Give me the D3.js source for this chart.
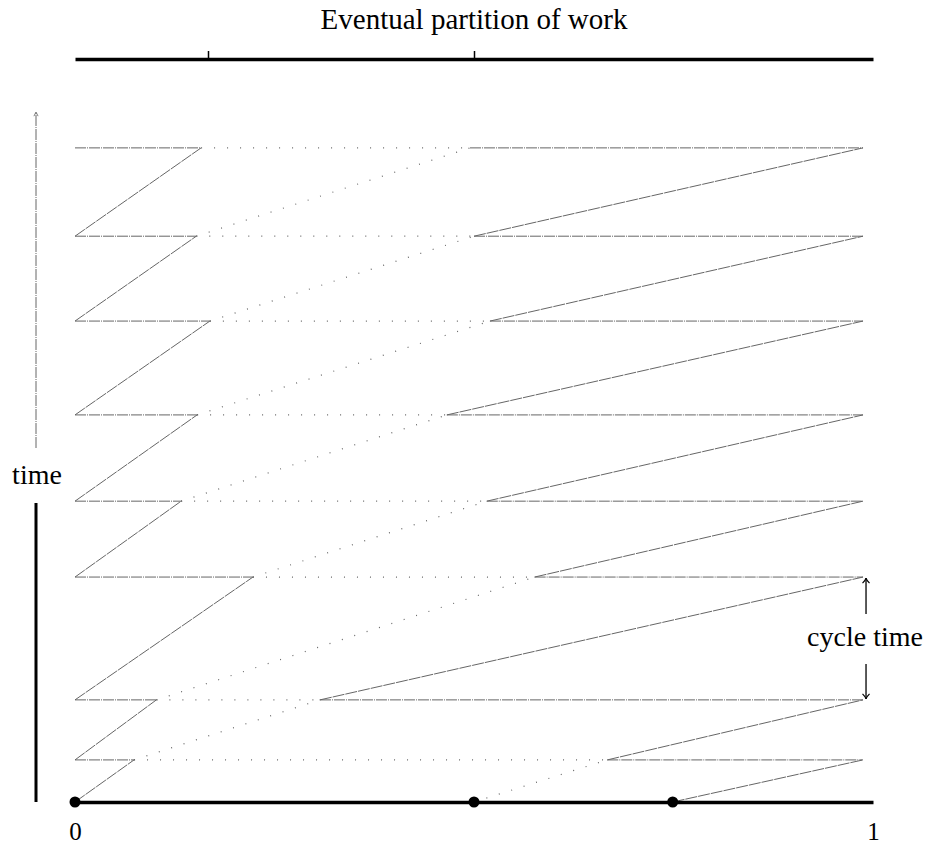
<!DOCTYPE html>
<html>
<head>
<meta charset="utf-8">
<script src="https://cdn.jsdelivr.net/npm/d3@7"></script>
<style>
  html, body { margin: 0; padding: 0; background: #fff; }
  svg { display: block; }
  svg text { font-family: "Liberation Serif", "Times New Roman", Times, "DejaVu Serif", "Noto Serif", serif; fill: #000; }
</style>
</head>
<body>
<svg id="chart" width="928" height="844"></svg>
<script>
// Time at each scheduling step (arbitrary units, 0 = start)
const times = [0, 6.1, 14.8, 32.6, 43.6, 56.1, 69.7, 82.0, 94.8];
// Work reached by the left worker at each step (fraction of total work)
const leftPos = [0, 0.074, 0.102, 0.223, 0.133, 0.153, 0.169, 0.152, 0.158];
// Work position where the right worker restarts at each step
const rightPos = [0.749, 0.667, 0.307, 0.576, 0.516, 0.466, 0.520, 0.500, 0.495];
// Starting point of the boundary hand-off at step 0
const initialSplit = 0.5;
// Right end of the work range swept by the right worker
const workEnd = 0.9875;
// Eventual partition marks and end labels
const partitionTicks = [1 / 6, 0.5];
const endTicks = [0, 1];
const endLabels = ["0", "1"];
// Marked points on the work axis
const startDots = [0, 0.5, 0.749];
// Cycle-time annotation spans steps 2..3
const cycleSpan = [2, 3];

const serif = "'Liberation Serif', 'Times New Roman', Times, 'DejaVu Serif', 'Noto Serif', serif";

const svg = d3.select("#chart");
const x = d3.scaleLinear([0, 1], [75, 873]);
const y = d3.scaleLinear([0, 100], [802, 112]);

const gray = "#666";
const dashStyle = "11,1,1,1";
const dotStyle = "1,12";

const defs = svg.append("defs");
defs.append("marker")
  .attr("id", "head")
  .attr("viewBox", "-6 -6 12 12")
  .attr("refX", 0).attr("refY", 0)
  .attr("markerWidth", 12).attr("markerHeight", 12)
  .attr("markerUnits", "userSpaceOnUse")
  .attr("orient", "auto")
  .append("path")
  .attr("d", "M-5,-3.5 Q-2,-0.5 0,0 Q-2,0.5 -5,3.5")
  .attr("fill", "none").attr("stroke", "#000").attr("stroke-width", 1.2);
defs.append("marker")
  .attr("id", "headThin")
  .attr("viewBox", "-6 -6 12 12")
  .attr("refX", 0).attr("refY", 0)
  .attr("markerWidth", 10).attr("markerHeight", 10)
  .attr("markerUnits", "userSpaceOnUse")
  .attr("orient", "auto")
  .append("path")
  .attr("d", "M-5,-2.5 L0,0 L-5,2.5")
  .attr("fill", "none").attr("stroke", gray).attr("stroke-width", 1);

// Title
svg.append("text")
  .attr("x", x(0.5)).attr("y", 29)
  .attr("text-anchor", "middle")
  .attr("font-family", serif)
  .attr("font-size", 29)
  .text("Eventual partition of work");

// Eventual partition axis
const topAxis = svg.append("g")
  .attr("transform", `translate(0,${59})`)
  .call(d3.axisTop(x).tickValues(partitionTicks).tickSize(8).tickSizeOuter(0).tickFormat(""));
topAxis.select(".domain").attr("stroke", "#000").attr("stroke-width", 3.5);
topAxis.selectAll(".tick line").attr("stroke", "#000").attr("stroke-width", 1.5);

const steps = d3.range(1, times.length);
const plot = svg.append("g")
  .attr("fill", "none")
  .attr("stroke", gray)
  .attr("stroke-width", 1);

// Left worker: dashed return at each step
plot.selectAll(".leftBack").data(steps).join("line")
  .attr("x1", x(0)).attr("x2", i => x(leftPos[i]))
  .attr("y1", i => y(times[i])).attr("y2", i => y(times[i]))
  .attr("stroke-dasharray", dashStyle);

// Right worker: dashed return at each step
plot.selectAll(".rightBack").data(steps).join("line")
  .attr("x1", i => x(rightPos[i])).attr("x2", x(workEnd))
  .attr("y1", i => y(times[i])).attr("y2", i => y(times[i]))
  .attr("stroke-dasharray", dashStyle);

// Unclaimed gap between the workers
plot.selectAll(".gap").data(steps).join("line")
  .attr("x1", i => x(leftPos[i])).attr("x2", i => x(rightPos[i]))
  .attr("y1", i => y(times[i])).attr("y2", i => y(times[i]))
  .attr("stroke-dasharray", dotStyle)
  .attr("stroke-width", 1.2);

// Left worker progress between steps
const prev = d3.range(0, times.length - 1);
plot.selectAll(".leftRun").data(prev).join("line")
  .attr("x1", x(0)).attr("y1", i => y(times[i]))
  .attr("x2", i => x(leftPos[i + 1])).attr("y2", i => y(times[i + 1]))
  .attr("stroke-dasharray", "12,1");

// Right worker progress between steps
plot.selectAll(".rightRun").data(prev).join("line")
  .attr("x1", i => x(rightPos[i])).attr("y1", i => y(times[i]))
  .attr("x2", x(workEnd)).attr("y2", i => y(times[i + 1]))
  .attr("stroke-dasharray", "12,1");

// Boundary hand-off from one step to the next
plot.selectAll(".handoff").data(prev).join("line")
  .attr("x1", i => x(i === 0 ? initialSplit : leftPos[i])).attr("y1", i => y(times[i]))
  .attr("x2", i => x(rightPos[i + 1])).attr("y2", i => y(times[i + 1]))
  .attr("stroke-dasharray", dotStyle)
  .attr("stroke-width", 1.2);

// Work axis
const bottomAxis = svg.append("g")
  .attr("transform", `translate(0,${y(0)})`)
  .call(d3.axisBottom(x).tickValues(endTicks).tickSize(0).tickSizeOuter(0)
    .tickPadding(20).tickFormat((d, i) => endLabels[i]));
bottomAxis.attr("font-family", serif);
bottomAxis.select(".domain").attr("stroke", "#000").attr("stroke-width", 3.5);
bottomAxis.selectAll(".tick text")
  .attr("font-family", serif)
  .attr("font-size", 25).attr("fill", "#000");

svg.selectAll(".dot").data(startDots).join("circle")
  .attr("cx", d => x(d)).attr("cy", y(0)).attr("r", 5.5)
  .attr("fill", "#000");

// Time axis
const timeX = 36;
svg.append("line")
  .attr("x1", timeX).attr("x2", timeX)
  .attr("y1", 448).attr("y2", y(100))
  .attr("stroke", gray).attr("stroke-width", 1)
  .attr("stroke-dasharray", "11,1,1,1")
  .attr("marker-end", "url(#headThin)");
svg.append("line")
  .attr("x1", timeX).attr("x2", timeX)
  .attr("y1", 503).attr("y2", y(0))
  .attr("stroke", "#000").attr("stroke-width", 3);
svg.append("text")
  .attr("x", timeX + 1).attr("y", 484)
  .attr("text-anchor", "middle")
  .attr("font-family", serif)
  .attr("font-size", 28)
  .text("time");

// Cycle time annotation
const cx = x(workEnd) + 3;
const yTop = y(times[cycleSpan[1]]);
const yBot = y(times[cycleSpan[0]]);
svg.append("line")
  .attr("x1", cx).attr("x2", cx).attr("y1", 614).attr("y2", yTop + 1)
  .attr("stroke", "#000").attr("stroke-width", 1.3)
  .attr("marker-end", "url(#head)");
svg.append("line")
  .attr("x1", cx).attr("x2", cx).attr("y1", 664).attr("y2", yBot - 1)
  .attr("stroke", "#000").attr("stroke-width", 1.3)
  .attr("marker-end", "url(#head)");
svg.append("text")
  .attr("x", cx - 1).attr("y", 646)
  .attr("text-anchor", "middle")
  .attr("font-family", serif)
  .attr("font-size", 28)
  .text("cycle time");
</script>
</body>
</html>
